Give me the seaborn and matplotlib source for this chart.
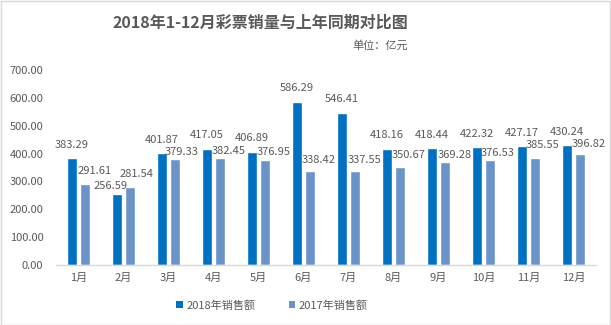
import matplotlib
matplotlib.use("Agg")
import matplotlib.pyplot as plt
import seaborn as sns
import pandas as pd
from matplotlib.patches import Rectangle, Patch
from matplotlib.ticker import FormatStrFormatter

months = ["1月", "2月", "3月", "4月", "5月", "6月", "7月", "8月", "9月", "10月", "11月", "12月"]
sales_2018 = [383.29, 256.59, 401.87, 417.05, 406.89, 586.29, 546.41, 418.16, 418.44, 422.32, 427.17, 430.24]
sales_2017 = [291.61, 281.54, 379.33, 382.45, 376.95, 338.42, 337.55, 350.67, 369.28, 376.53, 385.55, 396.82]
series = ["2018年销售额", "2017年销售额"]
colors = ["#0070C0", "#6A93C8"]

df = pd.DataFrame({
    "month": months * 2,
    "value": sales_2018 + sales_2017,
    "series": [series[0]] * len(months) + [series[1]] * len(months),
})

sns.set_theme(style="white")
plt.rcParams["font.family"] = ["Noto Sans CJK SC", "DejaVu Sans"]
text_color = "#595959"

fig = plt.figure(figsize=(6.11, 3.25), dpi=100)
ax = fig.add_axes([56 / 611, 1 - 265 / 325, 540 / 611, 195 / 325])

sns.barplot(data=df, x="month", y="value", hue="series", order=months,
            hue_order=series, palette=colors, width=0.58, gap=0.23,
            saturation=1, legend=False, ax=ax)

# value labels above each bar (offsets in points); the lighter series is
# nudged right and some labels are lowered so neighbours stay readable
series_offset = [(0.0, 6.0), (6.5, 4.0)]
label_offset = {
    (0, 1): (-4.5, 1.8),
    (1, 0): (7.0, 5.4), (1, 1): (5.0, 5.4), (1, 7): (6.5, 5.4), (1, 10): (5.5, 5.4),
    (1, 2): (5.0, 1.8), (1, 3): (6.5, 1.8), (1, 4): (6.5, 1.8),
    (1, 8): (7.0, 1.8), (1, 9): (5.5, 1.2),
}
for si, cont in enumerate(ax.containers):
    for mi, bar in enumerate(cont):
        h = bar.get_height()
        dx, dy = label_offset.get((si, mi), series_offset[si])
        ax.annotate(f"{h:.2f}", (bar.get_x() + bar.get_width() / 2, h),
                    xytext=(dx, dy), textcoords="offset points",
                    ha="center", va="bottom", fontsize=8, color=text_color)

ax.set_ylim(0, 700)
ax.set_yticks(range(0, 701, 100))
ax.yaxis.set_major_formatter(FormatStrFormatter("%.2f"))
ax.set_xlabel("")
ax.set_ylabel("")
ax.tick_params(axis="both", length=0, labelsize=8, labelcolor=text_color)
ax.tick_params(axis="y", pad=9)
ax.tick_params(axis="x", pad=6)
for s in ["left", "right", "top"]:
    ax.spines[s].set_visible(False)
ax.spines["bottom"].set_color("#D9D9D9")
ax.spines["bottom"].set_linewidth(1)

fig.text(260 / 611, 1 - 23 / 325, "2018年1-12月彩票销量与上年同期对比图",
         ha="center", va="center", fontsize=11.5, fontweight="bold", color=text_color)
fig.text(408 / 611, 1 - 45 / 325, "单位：亿元", ha="right", va="center",
         fontsize=8, color=text_color)

handles = [Patch(facecolor=c, edgecolor="none") for c in colors]
fig.legend(handles, series, loc="center", bbox_to_anchor=(272 / 611, 1 - 305 / 325),
           ncol=2, frameon=False, fontsize=8, labelcolor=text_color,
           handlelength=0.6, handleheight=0.6, handletextpad=0.3, columnspacing=3.0)

fig.patches.append(Rectangle((0.5 / 611, 0.5 / 325), 1 - 1.5 / 611, 1 - 1.5 / 325,
                             transform=fig.transFigure, fill=False,
                             edgecolor="#D9D9D9", linewidth=1))

fig.savefig("out.png", dpi=100)
